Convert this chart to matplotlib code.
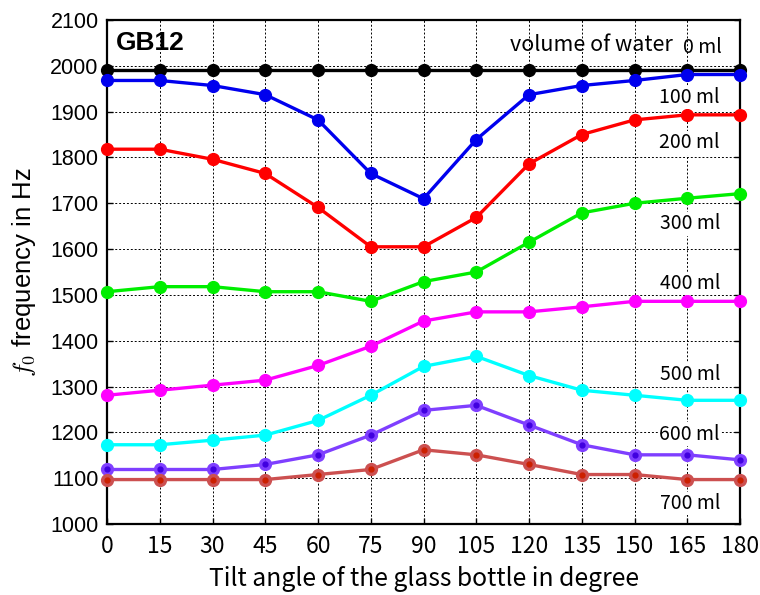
import matplotlib
matplotlib.use("Agg")
import matplotlib.pyplot as plt

angles = [0, 15, 30, 45, 60, 75, 90, 105, 120, 135, 150, 165, 180]
volumes = ["0 ml", "100 ml", "200 ml", "300 ml", "400 ml", "500 ml", "600 ml", "700 ml"]
f_0ml = [1991, 1991, 1991, 1991, 1991, 1991, 1991, 1991, 1991, 1991, 1991, 1991, 1991]
f_100ml = [1968, 1968, 1957, 1937, 1882, 1765, 1710, 1839, 1937, 1957, 1968, 1981, 1981]
f_200ml = [1818, 1818, 1796, 1765, 1691, 1605, 1605, 1669, 1786, 1850, 1882, 1893, 1893]
f_300ml = [1507, 1518, 1518, 1507, 1507, 1486, 1529, 1550, 1615, 1679, 1700, 1711, 1721]
f_400ml = [1281, 1292, 1303, 1314, 1346, 1388, 1443, 1463, 1463, 1474, 1486, 1486, 1486]
f_500ml = [1173, 1173, 1183, 1194, 1226, 1281, 1344, 1366, 1324, 1292, 1281, 1270, 1270]
f_600ml = [1119, 1119, 1119, 1130, 1151, 1194, 1248, 1259, 1216, 1173, 1151, 1151, 1140]
f_700ml = [1097, 1097, 1097, 1097, 1108, 1119, 1162, 1151, 1130, 1108, 1108, 1097, 1097]
series = [f_0ml, f_100ml, f_200ml, f_300ml, f_400ml, f_500ml, f_600ml, f_700ml]
colors = ["#000000", "#0000ee", "#ff0000", "#00ee00", "#ff00ff", "#00ffff", "#7f3fff", "#cc5050"]
inner = [None, None, None, None, None, None, "#4000e0", "#cc2000"]
label_y = [2039, 1931, 1832, 1655, 1525, 1326, 1196, 1045]

plt.rcParams["mathtext.fontset"] = "cm"
jp = ["Noto Sans CJK JP", "DejaVu Sans"]

fig = plt.figure(figsize=(7.6, 5.95), dpi=100)
ax = fig.add_axes([0.1408, 0.1193, 0.8329, 0.8471])

for vals, c, ic in zip(series, colors, inner):
    ax.plot(angles, vals, color=c, lw=2.4, marker="o", ms=8.5, mec=c, mfc=c, zorder=3, clip_on=False)
    if ic is not None:
        ax.plot(angles, vals, ls="none", marker="o", ms=3.5, mfc=ic, mec=ic, zorder=4, clip_on=False)

ax.set_xlim(0, 180)
ax.set_ylim(1000, 2100)
ax.set_xticks(angles)
ax.set_yticks(range(1000, 2101, 100))
ax.grid(True, color="black", ls=(0, (2, 2)), lw=0.7)
ax.tick_params(direction="in", length=4, width=1, top=False, right=True)
ax.tick_params(axis="x", pad=8)
ax.tick_params(axis="y", pad=6)
for s in ax.spines.values():
    s.set_linewidth(1.6)

for lbl in ax.get_xticklabels():
    lbl.set_fontfamily(jp)
    lbl.set_fontsize(16.5)
for lbl in ax.get_yticklabels():
    lbl.set_fontfamily("Liberation Sans")
    lbl.set_fontsize(15.5)

ax.set_xlabel("Tilt angle of the glass bottle in degree", fontfamily=jp, fontsize=17.8, labelpad=6)
ax.set_ylabel(r"$f_0$ frequency in Hz", fontfamily="Liberation Sans", fontsize=18.5, labelpad=9)

box = dict(facecolor="white", edgecolor="none", pad=1.0)
ax.text(2.6, 2050, "GB12", fontsize=19, fontweight="bold", fontfamily="Liberation Sans", va="center", ha="left", zorder=5)
ax.text(161, 2045, "volume of water", fontsize=15.5, fontfamily=jp, va="center", ha="right", zorder=5)
ax.text(163.8, label_y[0], volumes[0], fontsize=14, fontfamily=jp, va="center", ha="left", zorder=5)
for v, y in zip(volumes[1:], label_y[1:]):
    ax.text(174.3, y, v, fontsize=14, fontfamily=jp, va="center", ha="right", zorder=5, bbox=box)

fig.savefig("out.png", dpi=100)
